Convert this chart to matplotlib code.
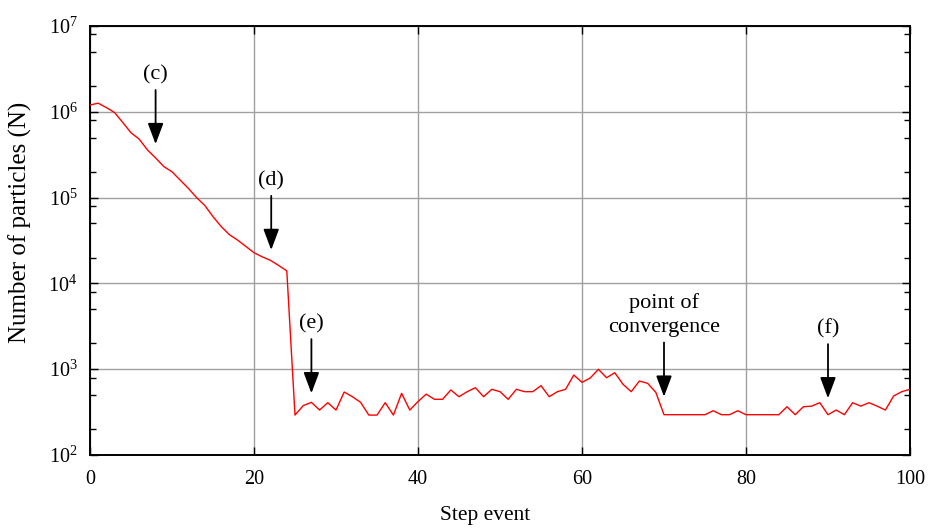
import numpy as np
import matplotlib
matplotlib.use("Agg")
import matplotlib.pyplot as plt
from matplotlib.ticker import LogLocator, FixedLocator, LogFormatterMathtext, NullFormatter

plt.rcParams["font.family"] = ["Liberation Serif", "DejaVu Serif"]
plt.rcParams["mathtext.fontset"] = "custom"
plt.rcParams["mathtext.rm"] = "Liberation Serif"
plt.rcParams["mathtext.it"] = "Liberation Serif:italic"

# Particle count at each step event
steps = np.arange(0, 101)
particles = [
    1.20e6, 1.26e6, 1.12e6, 9.8e5, 7.5e5, 5.7e5, 4.8e5, 3.6e5, 2.9e5, 2.3e5,
    2.0e5, 1.6e5, 1.28e5, 1.0e5, 8.1e4, 6.0e4, 4.6e4, 3.7e4, 3.2e4, 2.7e4,
    2.28e4, 2.04e4, 1.86e4, 1.62e4, 1.40e4, 292, 376, 411, 334, 407,
    334, 542, 478, 411, 292, 292, 407, 292, 523, 334,
    420, 512, 446, 446, 573, 478, 547, 609, 478, 583,
    547, 446, 583, 547, 547, 643, 478, 547, 583, 855,
    703, 789, 997, 796, 910, 667, 547, 728, 685, 538,
    295, 295, 295, 295, 295, 295, 328, 295, 295, 328,
    295, 295, 295, 295, 295, 365, 295, 365, 371, 407,
    295, 334, 295, 407, 371, 407, 371, 334, 487, 547,
    583,
]

# Annotated events: label, step, particle count at arrow tip
ann_labels = ["(c)", "(d)", "(e)", "point of\nconvergence", "(f)"]
ann_steps = [8, 22.1, 27, 70, 90]
ann_values = [4.2e5, 2.45e4, 524, 478, 458]

x_ticks = [0, 20, 40, 60, 80, 100]

fig = plt.figure(figsize=(9.31, 5.29), dpi=100)
ax = fig.add_axes([90 / 931, 74 / 529, 820 / 931, 429 / 529])

ax.plot(steps, particles, color="#ff0000", linewidth=1.0, zorder=3)

ax.set_yscale("log")
ax.set_xlim(0, 100)
ax.set_ylim(1e2, 1e7)

ax.xaxis.set_major_locator(FixedLocator(x_ticks))
ax.yaxis.set_major_locator(LogLocator(base=10, numticks=10))
ax.yaxis.set_minor_locator(LogLocator(base=10, subs=(2.0, 5.0, 8.0), numticks=20))
ax.yaxis.set_major_formatter(LogFormatterMathtext())
ax.yaxis.set_minor_formatter(NullFormatter())

ax.grid(True, which="major", color="#a0a0a0", linewidth=1.0, zorder=1)
ax.tick_params(which="both", direction="in", top=True, right=True,
               labelsize=14.5, width=1.0)
ax.tick_params(axis="x", pad=11)
ax.tick_params(axis="y", pad=9)
ax.tick_params(which="major", length=6)
ax.tick_params(which="minor", length=4)
for sp in ax.spines.values():
    sp.set_linewidth(1.4)

ax.set_xlabel("Step event", fontsize=15.5, va="center")
ax.xaxis.set_label_coords(0.482, -0.14)
ax.set_ylabel("Number of particles (N)", fontsize=18, va="center")
ax.yaxis.set_label_coords(-0.085, 0.543)

for lab, sx, sv in zip(ann_labels, ann_steps, ann_values):
    ax.annotate(lab, xy=(sx, sv), xytext=(0, 43), textcoords="offset points",
                ha="center", va="bottom", fontsize=16, linespacing=1.35,
                arrowprops=dict(arrowstyle="-|>,head_length=0.8,head_width=0.3",
                                color="black", lw=1.3, shrinkA=2, shrinkB=0),
                zorder=4)

fig.savefig("out.png", dpi=100)
